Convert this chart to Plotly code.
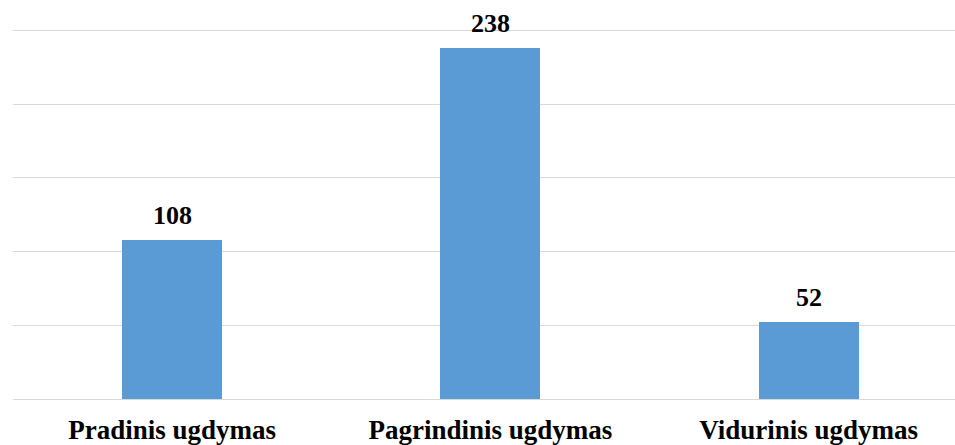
import plotly.graph_objects as go

categories = ["Pradinis ugdymas", "Pagrindinis ugdymas", "Vidurinis ugdymas"]
values = [108, 238, 52]
y_ticks = [0, 50, 100, 150, 200, 250]

fig = go.Figure(go.Bar(
    x=categories, y=values,
    marker=dict(color="#5B9BD5", line=dict(width=0)),
    width=0.314,
    cliponaxis=False,
    hoverinfo="skip",
))

for c, v in zip(categories, values):
    fig.add_annotation(
        x=c, y=v, text=f"<b>{v}</b>", showarrow=False,
        yanchor="bottom", yshift=8,
        font=dict(family="Liberation Serif", size=26, color="#000000"),
    )

fig.update_layout(
    width=955, height=445,
    margin=dict(l=13, r=0, t=29, b=46),
    paper_bgcolor="white", plot_bgcolor="white",
    showlegend=False,
    font=dict(family="Liberation Serif", color="#000000"),
    xaxis=dict(range=[-0.5, 2.46], showgrid=False, showline=False, zeroline=False,
               ticks="", ticklabelstandoff=12,
               tickfont=dict(family="Liberation Serif", size=27, color="#000000"),
               tickprefix="<b>", ticksuffix="</b>"),
    yaxis=dict(range=[0, 251], tickvals=y_ticks, showticklabels=False,
               gridcolor="#D9D9D9", gridwidth=1, zeroline=True, zerolinecolor="#D9D9D9",
               zerolinewidth=1, showline=False),
    bargap=0,
)

fig.write_html("out.html", config={"displayModeBar": False},
               post_script="document.body.style.margin='0';")
